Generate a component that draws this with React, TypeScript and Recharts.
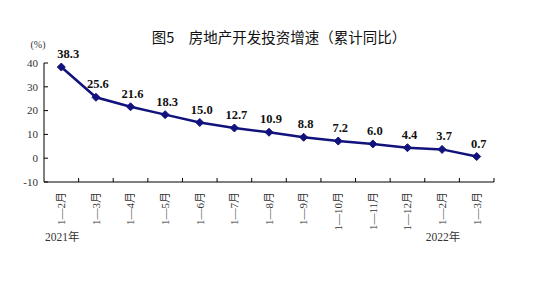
import React from "react";
import { LineChart, Line, XAxis, YAxis, LabelList } from "recharts";

const categories = [
  "1—2月", "1—3月", "1—4月", "1—5月", "1—6月", "1—7月", "1—8月",
  "1—9月", "1—10月", "1—11月", "1—12月", "1—2月", "1—3月",
];
const growth = [38.3, 25.6, 21.6, 18.3, 15.0, 12.7, 10.9, 8.8, 7.2, 6.0, 4.4, 3.7, 0.7];
const yearLabels: Record<number, string> = { 0: "2021年", 11: "2022年" };
const yTicks = [-10, 0, 10, 20, 30, 40];

const data = categories.map((label, i) => ({ label, value: growth[i] }));

const W = 556;
const H = 286;
const LEFT = 44;
const RIGHT = 494;
const TOP = 63;
const BOTTOM = 182;
const X_AXIS_H = 30;
const BAND = (RIGHT - LEFT) / categories.length;
const NAVY = "#12127c";
const SERIF = '"Liberation Serif", "DejaVu Serif", "Noto Sans CJK SC", serif';

const XTick = (props: any) => {
  const { x, payload, index } = props;
  const year = yearLabels[index];
  return (
    <g>
      <line x1={x + BAND / 2} x2={x + BAND / 2} y1={BOTTOM} y2={BOTTOM - 4} stroke="#000" strokeWidth={1} />
      <text
        x={x}
        y={192}
        transform={`rotate(-90, ${x}, 192)`}
        textAnchor="end"
        dy="0.35em"
        fontSize={11}
        fontFamily={SERIF}
        fill="#333"
      >
        {payload.value}
      </text>
      {year && (
        <text x={x + 1} y={241} textAnchor="middle" fontSize={11.5} fontFamily={SERIF} fill="#333">
          {year}
        </text>
      )}
    </g>
  );
};

const YTick = (props: any) => {
  const { y, payload } = props;
  return (
    <g>
      <line x1={LEFT} x2={LEFT + 4} y1={y} y2={y} stroke="#000" strokeWidth={1} />
      <text x={38} y={y} dy="0.35em" textAnchor="end" fontSize={11} fontFamily={SERIF} fill="#333">
        {payload.value}
      </text>
    </g>
  );
};

const Diamond = (props: any) => {
  const { cx, cy } = props;
  if (cx == null || cy == null) return null;
  const r = 4;
  return (
    <path
      d={`M${cx},${cy - r} L${cx + r},${cy} L${cx},${cy + r} L${cx - r},${cy} Z`}
      fill={NAVY}
      stroke={NAVY}
    />
  );
};

const ValueLabel = (props: any) => {
  const { x, y, value, index } = props;
  const dx = index === 0 ? 7 : 2;
  return (
    <text
      x={x + dx}
      y={y - 9}
      textAnchor="middle"
      fontSize={12.5}
      fontWeight="bold"
      fontFamily={SERIF}
      fill="#111"
    >
      {Number(value).toFixed(1)}
    </text>
  );
};

export default function App() {
  return (
    <div style={{ position: "absolute", left: 0, top: 0, width: W, height: H, background: "#fff" }}>
      <LineChart
        width={W}
        height={H}
        data={data}
        margin={{ top: TOP, right: W - RIGHT, bottom: H - BOTTOM - X_AXIS_H, left: 0 }}
      >
        <text
          x={279}
          y={38}
          dy="0.35em"
          textAnchor="middle"
          fontSize={14.5}
          fontFamily='"Noto Sans CJK SC", sans-serif'
          fill="#111"
        >
          图5　房地产开发投资增速（累计同比）
        </text>
        <text x={38} y={44} dy="0.35em" textAnchor="middle" fontSize={10} fontFamily={SERIF} fill="#333">
          (%)
        </text>
        <XAxis
          dataKey="label"
          interval={0}
          padding={{ left: BAND / 2, right: BAND / 2 }}
          tickLine={false}
          axisLine={{ stroke: "#000", strokeWidth: 1 }}
          tick={<XTick />}
          height={X_AXIS_H}
        />
        <YAxis
          width={LEFT}
          domain={[-10, 40]}
          ticks={yTicks}
          interval={0}
          tickLine={false}
          axisLine={{ stroke: "#000", strokeWidth: 1 }}
          tick={<YTick />}
        />
        <Line
          type="linear"
          dataKey="value"
          stroke={NAVY}
          strokeWidth={2.5}
          dot={<Diamond />}
          activeDot={false}
          isAnimationActive={false}
        >
          <LabelList dataKey="value" content={<ValueLabel />} />
        </Line>
      </LineChart>
    </div>
  );
}
